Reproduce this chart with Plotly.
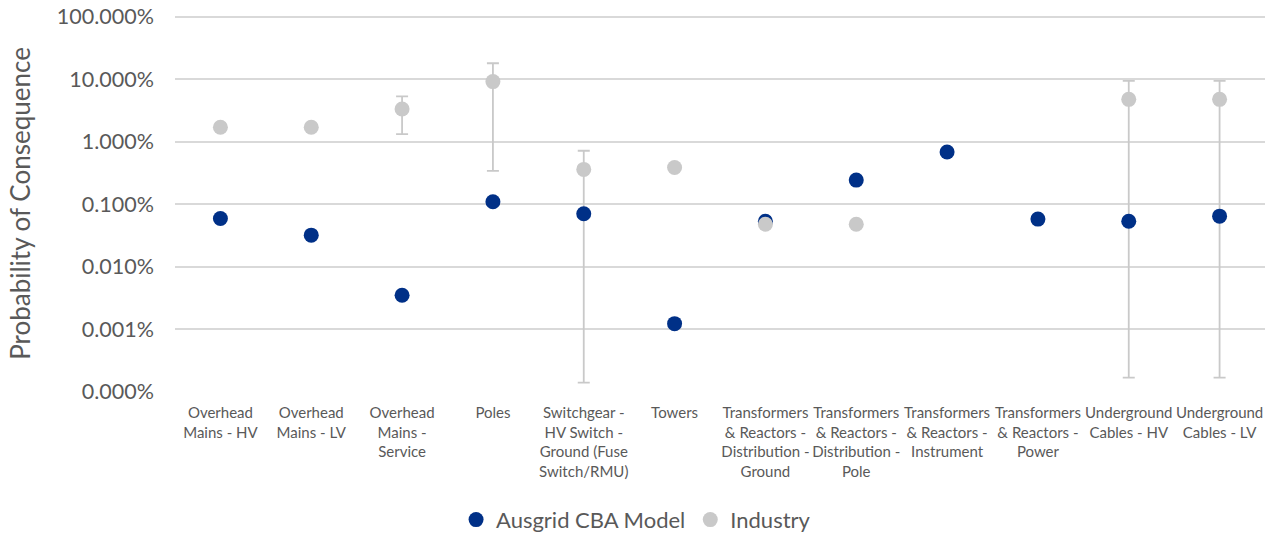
import plotly.graph_objects as go

categories = [
    "Overhead<br>Mains - HV",
    "Overhead<br>Mains - LV",
    "Overhead<br>Mains -<br>Service",
    "Poles",
    "Switchgear -<br>HV Switch -<br>Ground (Fuse<br>Switch/RMU)",
    "Towers",
    "Transformers<br>& Reactors -<br>Distribution -<br>Ground",
    "Transformers<br>& Reactors -<br>Distribution -<br>Pole",
    "Transformers<br>& Reactors -<br>Instrument",
    "Transformers<br>& Reactors -<br>Power",
    "Underground<br>Cables - HV",
    "Underground<br>Cables - LV",
]

# probabilities in percent
ausgrid_pct = [0.0594, 0.0321, 0.00351, 0.110, 0.0705, 0.00123,
               0.0537, 0.244, 0.687, 0.058, 0.0537, 0.0646]
industry_pct = [1.71, 1.71, 3.36, 9.2, 0.362, 0.389,
                0.048, 0.048, None, None, 4.79, 4.79]
industry_high_pct = [None, None, 5.36, 18.1, 0.72, None,
                     None, None, None, None, 9.43, 9.43]
industry_low_pct = [None, None, 1.33, 0.344, 0.00014, None,
                    None, None, None, None, 0.000168, 0.000168]

y_tickvals_pct = [100, 10, 1, 0.1, 0.01, 0.001, 0.0001]
y_ticktext = ["100.000%", "10.000%", "1.000%", "0.100%", "0.010%", "0.001%", "0.000%"]

BLUE = "#003087"
GREY = "#C9C9C9"
FONT = "Lato"
TEXT = "#595959"


def frac(v):
    return None if v is None else v / 100.0


x = list(range(len(categories)))
ind = [frac(v) for v in industry_pct]
err_plus = []
err_minus = []
for v, hi, lo in zip(industry_pct, industry_high_pct, industry_low_pct):
    if v is None or hi is None:
        err_plus.append(None)
        err_minus.append(None)
    else:
        err_plus.append((hi - v) / 100.0)
        err_minus.append((v - lo) / 100.0)

fig = go.Figure()

# industry range whiskers (drawn beneath all markers)
fig.add_trace(go.Scatter(
    x=x, y=ind, mode="markers", showlegend=False, hoverinfo="skip",
    marker=dict(size=1, color="rgba(0,0,0,0)"),
    error_y=dict(type="data", symmetric=False, array=err_plus, arrayminus=err_minus,
                 color=GREY, thickness=1.8, width=6),
))

fig.add_trace(go.Scatter(
    x=x, y=[frac(v) for v in ausgrid_pct], mode="markers", name="Ausgrid CBA Model",
    marker=dict(size=15, color=BLUE, line=dict(width=0)), legendrank=1,
))

fig.add_trace(go.Scatter(
    x=x, y=ind, mode="markers", name="Industry",
    marker=dict(size=15, color=GREY, line=dict(width=0)), legendrank=2,
))

fig.update_layout(
    width=1276, height=536,
    margin=dict(l=175, r=11, t=15, b=144, autoexpand=False),
    paper_bgcolor="white", plot_bgcolor="white",
    font=dict(family=FONT, color=TEXT),
    showlegend=True,
    legend=dict(orientation="h", x=0.423, xanchor="center", y=-0.339, yanchor="middle",
                font=dict(size=22, color=TEXT), itemsizing="trace", itemwidth=30,
                traceorder="normal"),
)

fig.update_xaxes(
    range=[-0.5, len(categories) - 0.5],
    tickmode="array", tickvals=x, ticktext=categories,
    tickfont=dict(size=15, color=TEXT, family=FONT),
    showgrid=False, zeroline=False, showline=False, ticks="", tickangle=0,
    automargin=False, ticklabelstandoff=10,
)

fig.update_yaxes(
    type="log", range=[-6.004, 0.03],
    tickmode="array", tickvals=[frac(v) for v in y_tickvals_pct], ticktext=y_ticktext,
    tickfont=dict(size=21.5, color=TEXT, family=FONT),
    showgrid=True, gridcolor="#D9D9D9", gridwidth=1.5,
    zeroline=False, showline=False, ticks="", ticklabelstandoff=20,
    automargin=False,
    title=dict(text="Probability of Consequence", font=dict(size=26, color=TEXT, family=FONT),
               standoff=18),
)

fig.write_html("out.html")
